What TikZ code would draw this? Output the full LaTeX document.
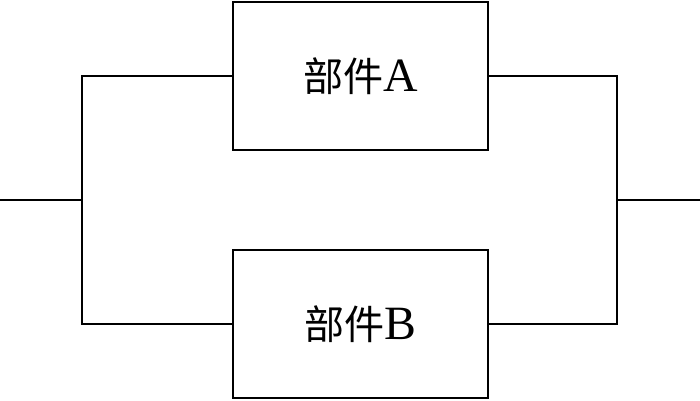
\documentclass[tikz,border=0pt]{standalone}
\usepackage{fontspec}
\setmainfont{Liberation Serif}
\newfontfamily\cjk{Noto Sans CJK SC}
\usetikzlibrary{positioning}
\tikzset{part/.style={draw,rectangle,line width=1.6pt,minimum width=6.375cm,minimum height=3.7cm,inner sep=0pt,align=center},
wire/.style={line width=1.6pt}}

\begin{document}
\begin{tikzpicture}[x=0.025cm,y=-0.025cm]
\useasboundingbox (0,0) rectangle (700,401);
\node[part] (pa) at (360.5,76) {{\cjk\fontsize{28.5}{28.5}\selectfont 部件}{\fontsize{34}{34}\selectfont A}};
\node[part] (pb) at (360.5,324) {{\cjk\fontsize{28.5}{28.5}\selectfont 部件}{\fontsize{34}{34}\selectfont B}};
\coordinate (in) at (0,200);
\coordinate (lj) at (82,200);
\coordinate (rj) at (617,200);
\coordinate (out) at (700,200);
\draw[wire] (in) -- (lj);
\draw[wire] (lj) |- (pa.west);
\draw[wire] (lj) |- (pb.west);
\draw[wire] (pa.east) -| (rj);
\draw[wire] (pb.east) -| (rj);
\draw[wire] (rj) -- (out);
\end{tikzpicture}
\end{document}
